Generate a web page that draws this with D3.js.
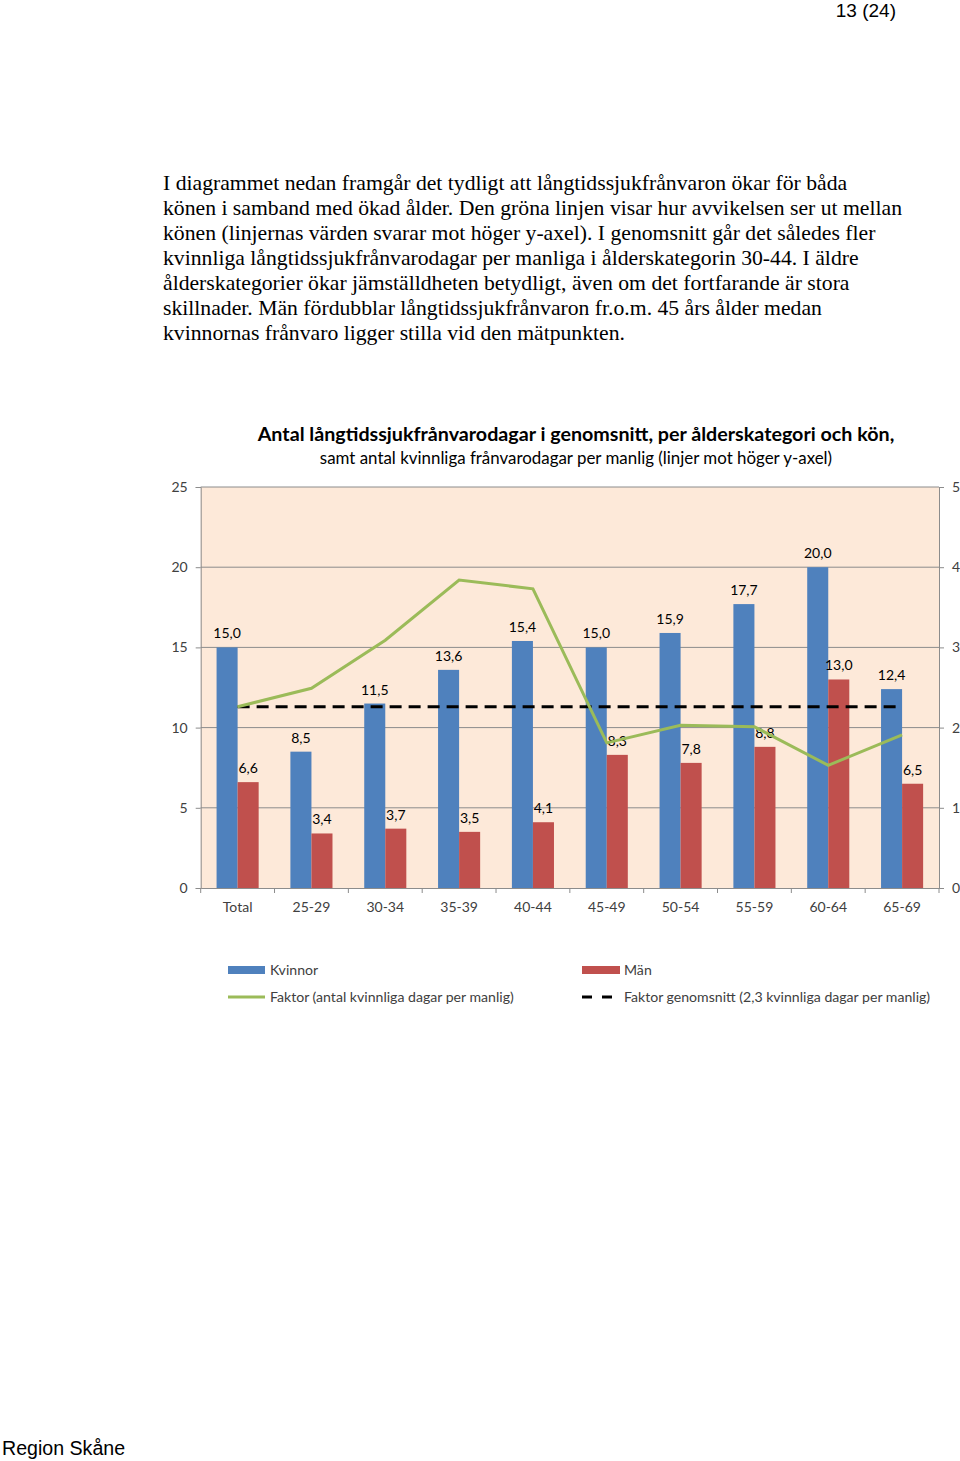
<!DOCTYPE html>
<html><head><meta charset="utf-8">
<script src="https://cdn.jsdelivr.net/npm/d3@7"></script>
<style>body{margin:0;background:#fff}svg{display:block}</style>
</head><body>
<script>
const categories = ["Total","25-29","30-34","35-39","40-44","45-49","50-54","55-59","60-64","65-69"];
const kvinnor = [15.0,8.5,11.5,13.6,15.4,15.0,15.9,17.7,20.0,12.4];
const man = [6.6,3.4,3.7,3.5,4.1,8.3,7.8,8.8,13.0,6.5];
const faktor = [2.26,2.49,3.09,3.84,3.73,1.81,2.03,2.01,1.53,1.91];
const faktorSnitt = 2.26;
const leftTicks = [0,5,10,15,20,25];
const rightTicks = [0,1,2,3,4,5];
const seriesNames = ["Kvinnor","Män"];
const bodyLines = [
 "I diagrammet nedan framgår det tydligt att långtidssjukfrånvaron ökar för båda",
 "könen i samband med ökad ålder. Den gröna linjen visar hur avvikelsen ser ut mellan",
 "könen (linjernas värden svarar mot höger y-axel). I genomsnitt går det således fler",
 "kvinnliga långtidssjukfrånvarodagar per manliga i ålderskategorin 30-44. I äldre",
 "ålderskategorier ökar jämställdheten betydligt, även om det fortfarande är stora",
 "skillnader. Män fördubblar långtidssjukfrånvaron fr.o.m. 45 års ålder medan",
 "kvinnornas frånvaro ligger stilla vid den mätpunkten."
];

const W=960,H=1461;
const svg=d3.select("body").append("svg").attr("width",W).attr("height",H);
const chartFont="Lato, 'Open Sans', sans-serif";
const txtCol="#404040";

svg.append("text").attr("x",896).attr("y",17).attr("text-anchor","end")
 .attr("font-family","'Liberation Sans', Arial, sans-serif").attr("font-size",19).attr("fill","#000").text("13 (24)");
svg.append("text").attr("x",2).attr("y",1455)
 .attr("font-family","'Liberation Sans', Arial, sans-serif").attr("font-size",19.6).attr("fill","#000").text("Region Skåne");

svg.append("g").selectAll("text").data(bodyLines).join("text")
 .attr("x",163).attr("y",(d,i)=>190+i*25)
 .attr("font-family","'Liberation Serif','Times New Roman',serif").attr("font-size",21.7).attr("fill","#000")
 .text(d=>d);

// title
svg.append("text").attr("x",576).attr("y",441).attr("text-anchor","middle")
 .attr("font-family",chartFont).attr("font-weight","bold").attr("font-size",19.7).attr("fill","#000")
 .text("Antal långtidssjukfrånvarodagar i genomsnitt, per ålderskategori och kön,");
svg.append("text").attr("x",576).attr("y",464).attr("text-anchor","middle")
 .attr("font-family",chartFont).attr("font-size",16.9).attr("fill","#000")
 .text("samt antal kvinnliga frånvarodagar per manlig (linjer mot höger y-axel)");

const x0=200.7,x1=939,yTop=487,yBot=888;
const x=d3.scaleBand().domain(categories).range([x0,x1]).paddingInner(0.43).paddingOuter(0.215);
const xs=d3.scaleBand().domain(seriesNames).range([0,x.bandwidth()]);
const y=d3.scaleLinear().domain([0,25]).range([yBot,yTop]);
const y2=d3.scaleLinear().domain([0,5]).range([yBot,yTop]);

svg.append("rect").attr("x",x0).attr("y",yTop).attr("width",x1-x0).attr("height",yBot-yTop).attr("fill","#FDE9D9");
svg.append("g").selectAll("line").data(leftTicks.filter(d=>d>0)).join("line")
 .attr("x1",x0).attr("x2",x1).attr("y1",d=>y(d)).attr("y2",d=>y(d)).attr("stroke","#8c8c8c").attr("stroke-width",1);

// axes
const gl=svg.append("g").attr("transform",`translate(${x0},0)`)
 .call(d3.axisLeft(y).tickValues(leftTicks).tickSize(5).tickPadding(8).tickFormat(d3.format("d")));
const gr=svg.append("g").attr("transform",`translate(${x1},0)`)
 .call(d3.axisRight(y2).tickValues(rightTicks).tickSize(5).tickPadding(8).tickFormat(d3.format("d")));
const gb=svg.append("g").attr("transform",`translate(0,${yBot})`)
 .call(d3.axisBottom(x).tickSize(0).tickPadding(14));
[gl,gr,gb].forEach(g=>{
 g.selectAll("path,line").attr("stroke","#8c8c8c");
 g.selectAll("text").attr("font-family",chartFont).attr("font-size",14).attr("fill",txtCol);
});
const bounds=d3.range(categories.length+1).map(i=>x0+i*(x1-x0)/categories.length);
svg.append("g").selectAll("line").data(bounds).join("line")
 .attr("x1",d=>d).attr("x2",d=>d).attr("y1",yBot).attr("y2",yBot+5).attr("stroke","#8c8c8c");

// bars
const colors={"Kvinnor":"#4F81BD","Män":"#C0504D"};
const rows=categories.map((c,i)=>({c,vals:[{s:"Kvinnor",v:kvinnor[i]},{s:"Män",v:man[i]}]}));
const grp=svg.append("g").selectAll("g").data(rows).join("g").attr("transform",d=>`translate(${x(d.c)},0)`);
grp.selectAll("rect").data(d=>d.vals).join("rect")
 .attr("x",d=>xs(d.s)).attr("width",xs.bandwidth()).attr("y",d=>y(d.v)).attr("height",d=>yBot-y(d.v))
 .attr("fill",d=>colors[d.s]);

// lines
const cx=c=>x(c)+x.bandwidth()/2;
svg.append("path").datum(categories).attr("fill","none").attr("stroke","#000").attr("stroke-width",3)
 .attr("stroke-dasharray","12,7")
 .attr("d",d3.line().x(c=>cx(c)).y(()=>y2(faktorSnitt)));
svg.append("path").datum(categories).attr("fill","none").attr("stroke","#9BBB59").attr("stroke-width",3)
 .attr("d",d3.line().x(c=>cx(c)).y((c,i)=>y2(faktor[i])));

// labels
const fmt=v=>v.toFixed(1).replace(".",",");
grp.selectAll("text").data(d=>d.vals).join("text")
 .attr("x",d=>xs(d.s)+xs.bandwidth()/2).attr("y",d=>y(d.v)-9).attr("text-anchor","middle")
 .attr("font-family",chartFont).attr("font-size",14).attr("fill","#000").text(d=>fmt(d.v));

// legend
const lg=svg.append("g").attr("font-family",chartFont).attr("font-size",14.1).attr("fill",txtCol);
lg.append("rect").attr("x",228).attr("y",966).attr("width",37).attr("height",8).attr("fill",colors["Kvinnor"]);
lg.append("text").attr("x",270).attr("y",975).text("Kvinnor");
lg.append("rect").attr("x",582).attr("y",966).attr("width",38).attr("height",8).attr("fill",colors["Män"]);
lg.append("text").attr("x",624).attr("y",975).text("Män");
lg.append("line").attr("x1",228).attr("x2",265).attr("y1",997).attr("y2",997).attr("stroke","#9BBB59").attr("stroke-width",3);
lg.append("text").attr("x",270).attr("y",1002).text("Faktor (antal kvinnliga dagar per manlig)");
lg.append("line").attr("x1",582).attr("x2",614).attr("y1",997).attr("y2",997).attr("stroke","#000").attr("stroke-width",3).attr("stroke-dasharray","10,10");
lg.append("text").attr("x",624).attr("y",1002).text("Faktor genomsnitt (2,3 kvinnliga dagar per manlig)");
</script>
</body></html>
